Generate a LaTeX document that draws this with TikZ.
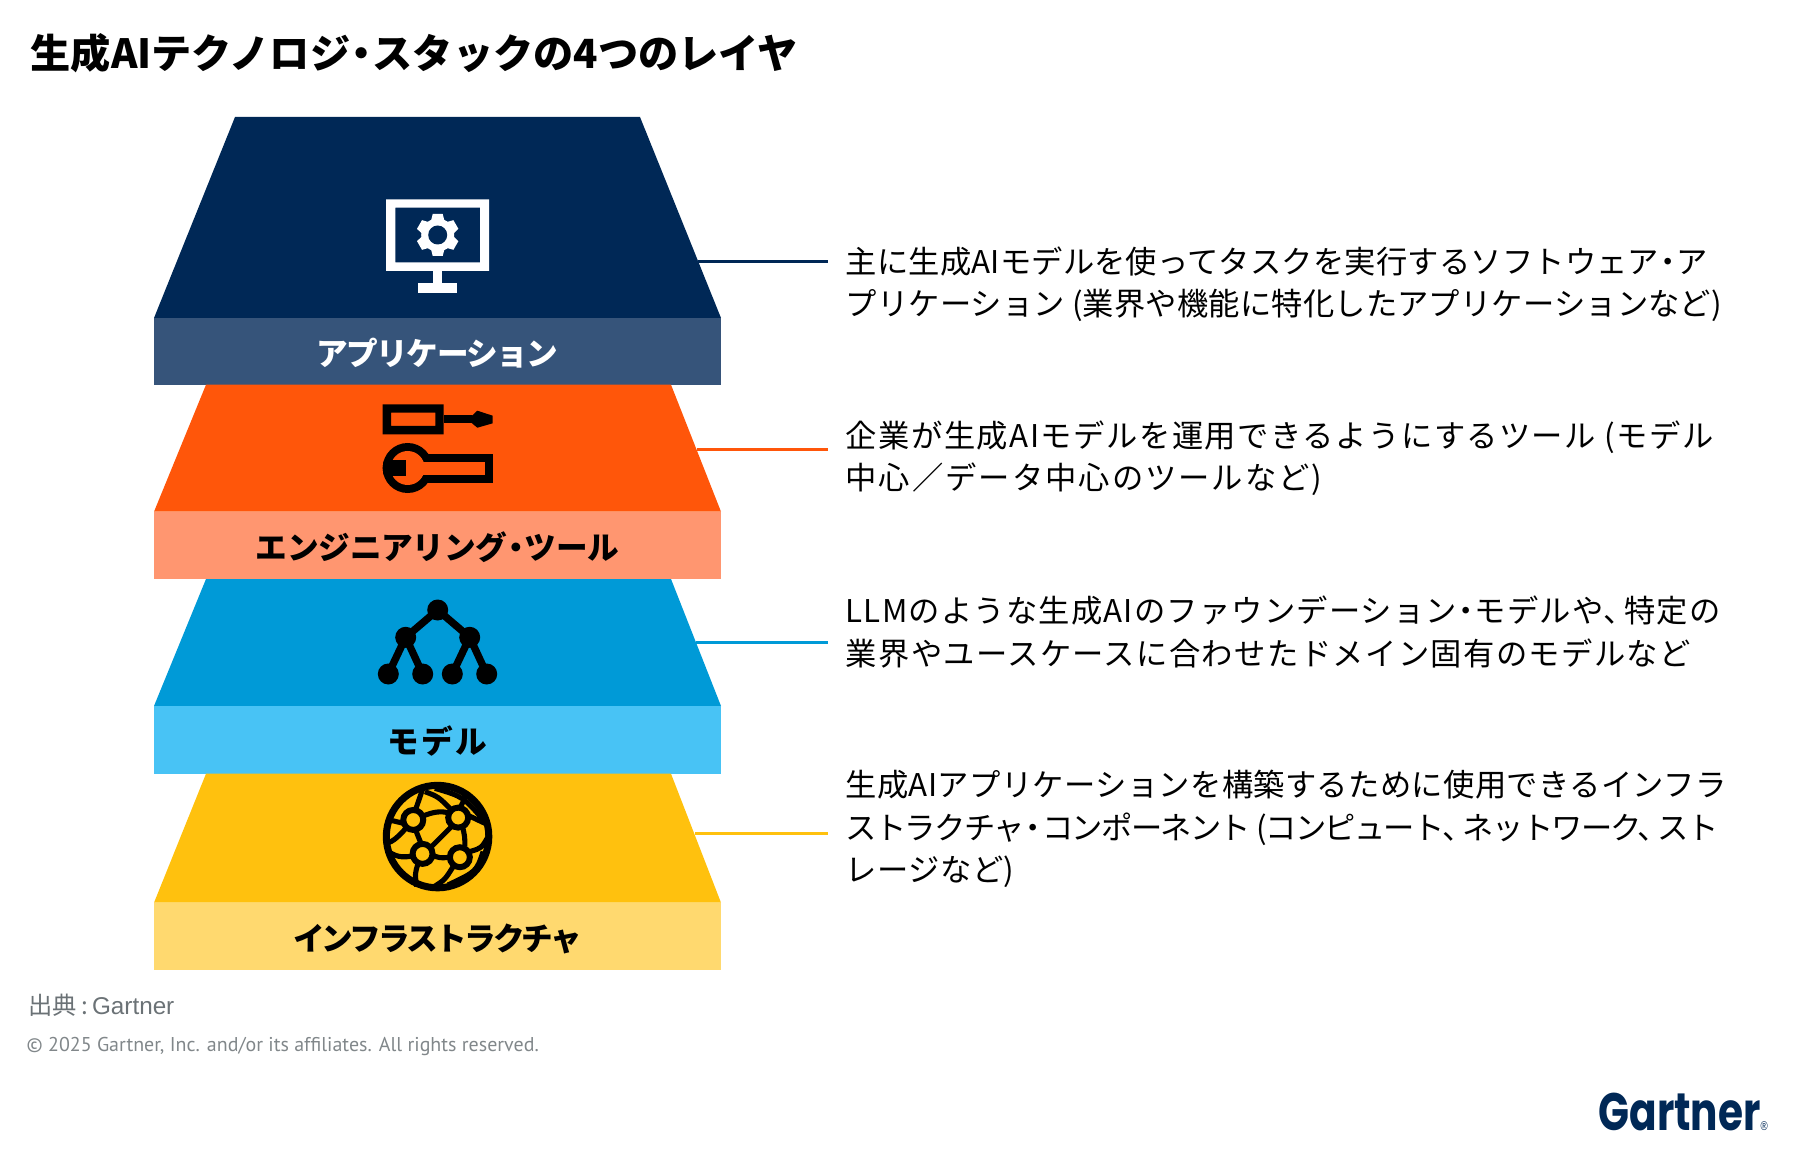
\documentclass[tikz,border=0pt]{standalone}
\usepackage{fontspec}
\setmainfont{Noto Sans CJK JP}
\newfontfamily\copyfont{PT Sans}
\newfontfamily\logofont{Poppins}
\newfontfamily\sourcefont{Liberation Sans}
\usetikzlibrary{arrows}

\definecolor{navytop}{HTML}{002856}
\definecolor{navyband}{HTML}{36547A}
\definecolor{orangetop}{HTML}{FF560A}
\definecolor{orangeband}{HTML}{FF9670}
\definecolor{bluetop}{HTML}{009AD7}
\definecolor{blueband}{HTML}{48C3F5}
\definecolor{yellowtop}{HTML}{FFC10E}
\definecolor{yellowband}{HTML}{FFD96F}
\definecolor{sourcegrey}{HTML}{6B7276}

\newcommand{\nakaten}{\kern-.22em・\kern-.22em}
\newcommand{\touten}{、\kern-.35em}
\newcommand{\track}[2]{{\addfontfeature{LetterSpace=#1}#2}}

\tikzset{
  bandbox/.style={minimum width=5.67cm,inner sep=0pt,text height=8.8pt,text depth=1pt,font=\fontsize{9}{11}\selectfont\bfseries},
  bodytext/.style={anchor=west,inner sep=0pt,align=left,font=\fontsize{8.9}{12.09}\selectfont},
  leader/.style={line width=0.95pt}
}

\begin{document}
\begin{tikzpicture}[x=0.01cm,y=-0.01cm]
\useasboundingbox (0,0) rectangle (1800,1149);

\node[anchor=west,inner sep=0pt,font=\fontsize{11.43}{14}\selectfont\bfseries] (title) at (30,53) {生成AIテクノロジ\nakaten スタックの4つのレイヤ};

\fill[navytop] (235,117) -- (640,117) -- (721,318) -- (154,318) -- cycle;
\node[bandbox,fill=navyband,text=white,minimum height=0.667cm] (appBand) at (437.5,351.3) {\track{-5}{アプリケーション}};

\fill[orangetop] (206,384.7) -- (671,384.7) -- (721,511.7) -- (154,511.7) -- cycle;
\node[bandbox,fill=orangeband,minimum height=0.673cm] (toolBand) at (437.5,545.3) {\track{-1}{エンジニアリング\nakaten ツール}};

\fill[bluetop] (206,579) -- (671,579) -- (721,706) -- (154,706) -- cycle;
\node[bandbox,fill=blueband,minimum height=0.677cm] (modelBand) at (437.5,739.8) {\track{7}{モデル}};

\fill[yellowtop] (206,773.7) -- (671,773.7) -- (721,902.7) -- (154,902.7) -- cycle;
\node[bandbox,fill=yellowband,minimum height=0.673cm] (infraBand) at (437.5,936.3) {\track{-9}{インフラストラクチャ}};

\coordinate (appEdge) at (698,261.7);
\coordinate (appEnd) at (828,261.7);
\coordinate (toolEdge) at (697,449.7);
\coordinate (toolEnd) at (828,449.7);
\coordinate (modelEdge) at (696,642.7);
\coordinate (modelEnd) at (828,642.7);
\coordinate (infraEdge) at (695,833.3);
\coordinate (infraEnd) at (828,833.3);
\draw[leader,navytop] (appEdge) -- (appEnd);
\draw[leader,orangetop] (toolEdge) -- (toolEnd);
\draw[leader,bluetop] (modelEdge) -- (modelEnd);
\draw[leader,yellowtop] (infraEdge) -- (infraEnd);

\node[bodytext] (appText) at (845,284) {\track{0.55}{主に生成AIモデルを使ってタスクを実行するソフトウェア\nakaten ア}\\\track{0.5}{プリケーション (業界や機能に特化したアプリケーションなど)}};
\node[bodytext] (toolText) at (845,458) {\track{4.8}{企業が生成AIモデルを運用できるようにするツール (モデル}\\\track{6.4}{中心／データ中心のツールなど)}};
\node[bodytext] (modelText) at (845,632) {\track{3.8}{LLMのような生成AIのファウンデーション\nakaten モデルや\touten 特定の}\\\track{4.4}{業界やユースケースに合わせたドメイン固有のモデルなど}};
\node[bodytext] (infraText) at (845,829) {\track{1.1}{生成AIアプリケーションを構築するために使用できるインフラ}\\\track{-5.4}{ストラクチャ\nakaten コンポーネント (コンピュート\touten ネットワーク\touten スト}\\\track{1.4}{レージなど)}};

% monitor
\fill[white,even odd rule] (386,199.3) rectangle (489,271) (395.3,207.7) rectangle (480,262.3);
\fill[white] (433.3,271) rectangle (442.3,284);
\fill[white] (418.3,283.3) rectangle (457,292.7);
\fill[white] (437.7,235) circle (16.5);
\foreach \a in {30,90,150,210,270,330}
  \fill[white,shift={(437.7,235)},rotate=\a] (13,-7) -- (21,-5) -- (21,5) -- (13,7) -- cycle;
\fill[navytop] (437.7,235) circle (9.5);

% tools
\fill[black,even odd rule] (382.7,404.3) rectangle (443.7,434.3) (391,412.7) rectangle (435.3,426);
\fill[black] (443.7,415.5) rectangle (472,423.2);
\fill[black] (471.7,416) -- (477.3,410.7) -- (492.7,415.7) -- (492.7,423.3) -- (477.3,427.7) -- (471.7,423) -- cycle;
\fill[black] (407.7,468) circle (25);
\fill[black] (420,453.7) rectangle (492.7,483);
\fill[orangetop] (407.7,468) circle (17);
\fill[orangetop] (420,461.7) rectangle (484.7,475);
\begin{scope}
\clip (407.7,468) circle (25);
\fill[black] (380,460) rectangle (406,475.7);
\end{scope}

% tree
\draw[line width=2.1pt] (405.7,637.3) -- (437.7,610) -- (469.7,637.3);
\draw[line width=2.1pt] (388.3,674) -- (405.7,637.3) -- (422.7,674);
\draw[line width=2.1pt] (452.3,674) -- (469.7,637.3) -- (486.7,674);
\foreach \x/\y in {437.7/610,405.7/637.3,469.7/637.3,388.3/674,422.7/674,452.3/674,486.7/674}
  \fill[black] (\x,\y) circle (10.5);

% globe
\begin{scope}[shift={(370,780)},x=0.00333cm,y=-0.00333cm,line width=1.45pt]
\draw[line width=2pt] (203,170) circle (154);
\draw (160,22) -- (135,95);
\draw (58,120) -- (100,130);
\draw (135,145) -- (155,195);
\draw (155,110) .. controls (190,95) and (215,92) .. (240,100);
\draw (245,140) -- (180,205);
\draw (278,140) .. controls (285,170) .. (285,200);
\draw (185,225) .. controls (210,235) .. (240,232);
\draw (50,190) .. controls (70,185) and (85,170) .. (108,145);
\draw (55,215) .. controls (85,235) and (105,232) .. (130,228);
\draw (145,250) .. controls (135,280) .. (140,320);
\draw (270,85) -- (295,35);
\draw (165,35) .. controls (205,50) .. (245,90);
\draw (195,25) .. controls (280,50) .. (345,125);
\draw (292,105) -- (345,130);
\draw (300,215) .. controls (335,205) .. (355,170);
\draw (340,215) .. controls (320,275) .. (235,315);
\draw (250,260) .. controls (225,300) .. (190,322);
\foreach \x/\y in {130/120,265/113,158/222,270/232}
  \draw[line width=1.7pt,fill=yellowtop] (\x,\y) circle (30);
\end{scope}

\node[anchor=west,inner sep=0pt,text=sourcegrey,font=\fontsize{6.9}{8}\selectfont] (source) at (28,1005) {出典\,:\,{\sourcefont Gartner}};
\node[anchor=west,inner sep=0pt,text=sourcegrey!85,font=\fontsize{5.68}{8}\selectfont\copyfont] (copyright) at (26,1046) {© 2025 Gartner, Inc. and/or its affiliates. All rights reserved.};
\node[anchor=west,inner sep=0pt,text=navytop,font=\fontsize{15}{16}\selectfont\logofont\bfseries,xscale=0.77,transform shape] (logo) at (1598,1112) {Gartner{\sourcefont\mdseries\fontsize{3.6}{4}\selectfont ®}};

\end{tikzpicture}
\end{document}
